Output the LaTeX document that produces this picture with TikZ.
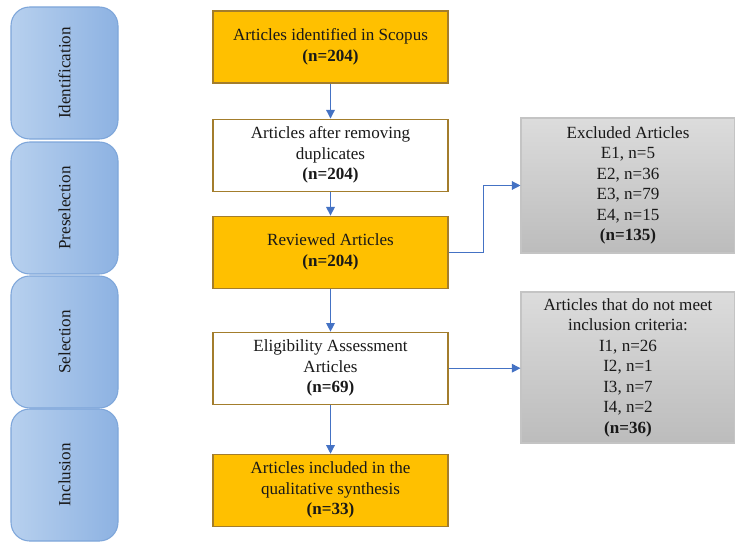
\documentclass[tikz,border=0pt]{standalone}
\usepackage{graphicx}
\usepackage{fontspec}
\setmainfont{Liberation Serif}
\usetikzlibrary{arrows.meta}
\usetikzlibrary{positioning}

\definecolor{stepgold}{HTML}{FFC000}
\definecolor{goldline}{HTML}{A37D2C}
\definecolor{phaseline}{HTML}{7EA6DA}
\definecolor{phaselight}{HTML}{B7D0EE}
\definecolor{phasedark}{HTML}{8DB2E2}
\definecolor{greylight}{HTML}{DCDCDC}
\definecolor{greydark}{HTML}{BCBCBC}
\definecolor{greyline}{HTML}{C4C4C4}
\definecolor{flowblue}{HTML}{4472C4}

\tikzset{
  every node/.style={font=\fontsize{12.8}{15.4}\selectfont, align=center, text=black!90},
  phase/.style={draw=phaseline, line width=0.8pt, rounded corners=14pt,
    left color=phaselight, right color=phasedark,
    minimum width=80.25pt, minimum height=99pt},
  stepbox/.style={draw=goldline, line width=0.8pt, minimum width=176.25pt, minimum height=54pt},
  goldbox/.style={stepbox, fill=stepgold},
  whitebox/.style={stepbox, fill=white},
  greybox/.style={draw=greyline, line width=0.8pt, top color=greylight, bottom color=greydark,
    minimum width=160.5pt},
  flow/.style={draw=flowblue, line width=0.9pt, -{Triangle[length=6.5pt,width=6.5pt]}}
}

\begin{document}
\begin{tikzpicture}[x=0.75pt, y=-0.75pt]
    \useasboundingbox (0,0) rectangle (735,542);

    % phases
    \node[phase] (ident) at (64.5,73) {\rotatebox{90}{Identification}};
    \node[phase] (presel) at (64.5,208) {\rotatebox{90}{Preselection}};
    \node[phase] (sel) at (64.5,342) {\rotatebox{90}{Selection}};
    \node[phase] (incl) at (64.5,475) {\rotatebox{90}{Inclusion}};

    % main column
    \node[goldbox] (scopus) at (330.5,47) {Articles identified in Scopus\\\textbf{(n=204)}};
    \node[whitebox, below=26.25pt of scopus] (dupl) {Articles after removing\\duplicates\\\textbf{(n=204)}};
    \node[goldbox, below=18pt of dupl] (review) {Reviewed Articles\\\textbf{(n=204)}};
    \node[whitebox, below=32.25pt of review] (elig) {Eligibility Assessment\\Articles\\\textbf{(n=69)}};
    \node[goldbox, below=36.75pt of elig] (synth) {Articles included in the\\qualitative synthesis\\\textbf{(n=33)}};

    % excluded
    \node[greybox, minimum height=101.25pt] (excl) at (628,185.5) {Excluded Articles\\E1, n=5\\E2, n=36\\E3, n=79\\E4, n=15\\\textbf{(n=135)}};
    \node[greybox, minimum height=113.25pt] (crit) at (628,367.5) {Articles that do not meet\\inclusion criteria:\\I1, n=26\\I2, n=1\\I3, n=7\\I4, n=2\\\textbf{(n=36)}};

    \draw[flow] (scopus) -- (dupl);
    \draw[flow] (dupl) -- (review);
    \draw[flow] (review) -- (elig);
    \draw[flow] (elig) -- (synth);
    \draw[flow] (review.east) -- ++(26.25pt,0) |- (excl.west);
    \draw[flow] (elig.east) -- (elig.east -| crit.west);
\end{tikzpicture}
\end{document}
